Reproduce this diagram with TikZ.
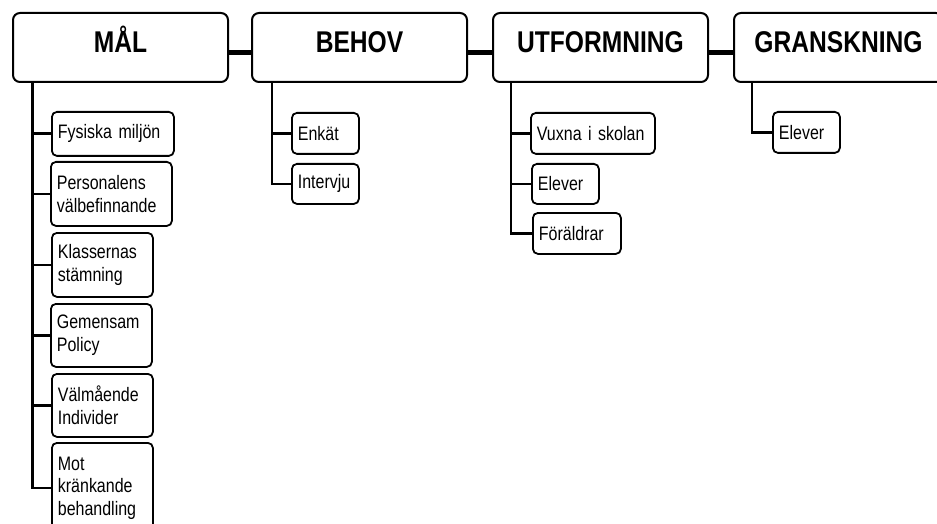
\documentclass[tikz,border=0pt]{standalone}
\usepackage{fontspec}
\setmainfont{Liberation Sans}[FakeStretch=0.82]
\newcommand\leaffont{\fontsize{19.5}{22.5}\selectfont\spaceskip=3.6pt\relax}
\newcommand\leafbox[7]{\node[leaf, minimum width=#4pt, minimum height=#5pt, text width=#6pt] (#1) at (#2,#3) {#7};}
\newcommand\topbox[3]{\node[topnode] (#1) at (#2,12) {#3};}
\begin{document}
\begin{tikzpicture}[x=1pt,y=-1pt,
  topnode/.style={draw, line width=2pt, rounded corners=7pt, minimum width=215pt, minimum height=69pt,
    anchor=north west, inner sep=0pt, font=\fontsize{30}{32}\selectfont\bfseries,
    text height=22pt, text depth=11pt},
  leaf/.style={draw, line width=1.8pt, rounded corners=5pt, anchor=north west, inner xsep=6pt,
    inner ysep=0pt, align=left, font=\leaffont},
  tree/.style={line width=2.8pt},
  link/.style={line width=5pt}]
\useasboundingbox (0,0) rectangle (937,524);
\clip (0,0) rectangle (937,524);
% top boxes
\topbox{mal}{12}{MÅL}
\topbox{behov}{251}{BEHOV}
\topbox{utf}{492}{UTFORMNING}
\node[topnode, minimum width=209pt] (gran) at (733,12) {GRANSKNING};
\draw[link] ([yshift=-5pt]mal.east) -- ([yshift=-5pt]behov.west);
\draw[link] ([yshift=-5pt]behov.east) -- ([yshift=-5pt]utf.west);
\draw[link] ([yshift=-5pt]utf.east) -- ([yshift=-5pt]gran.west);
% MÅL children
\leafbox{m1}{51}{111}{122}{44}{110}{Fysiska miljön}
\leafbox{m2}{50}{161}{121}{64}{109}{Personalens\\välbefinnande}
\leafbox{m3}{51}{232}{101}{64}{89}{Klassernas\\stämning}
\leafbox{m4}{50}{303}{101}{63}{89}{Gemensam\\Policy}
\leafbox{m5}{51}{373}{101}{63}{89}{Välmående\\Individer}
\leafbox{m6}{51}{442}{101}{90}{89}{Mot\\kränkande\\behandling}
\foreach \c in {m1,m2,m3,m4,m5,m6}
  \draw[tree] ([xshift=20.5pt]mal.south west) |- (\c.west);
% BEHOV children
\leafbox{b1}{291}{112}{67}{41}{55}{Enkät}
\leafbox{b2}{291}{163}{67}{40}{55}{Intervju}
\foreach \c in {b1,b2}
  \draw[tree] ([xshift=21pt]behov.south west) |- (\c.west);
% UTFORMNING children
\leafbox{u1}{530}{112}{124}{41}{112}{Vuxna i skolan}
\leafbox{u2}{531}{163}{67}{40}{55}{Elever}
\leafbox{u3}{532}{212}{88}{41}{76}{Föräldrar}
\foreach \c in {u1,u2,u3}
  \draw[tree] ([xshift=19pt]utf.south west) |- (\c.west);
% GRANSKNING children
\leafbox{g1}{772}{111}{67}{41}{55}{Elever}
\draw[tree] ([xshift=19pt]gran.south west) |- (g1.west);
\end{tikzpicture}
\end{document}
